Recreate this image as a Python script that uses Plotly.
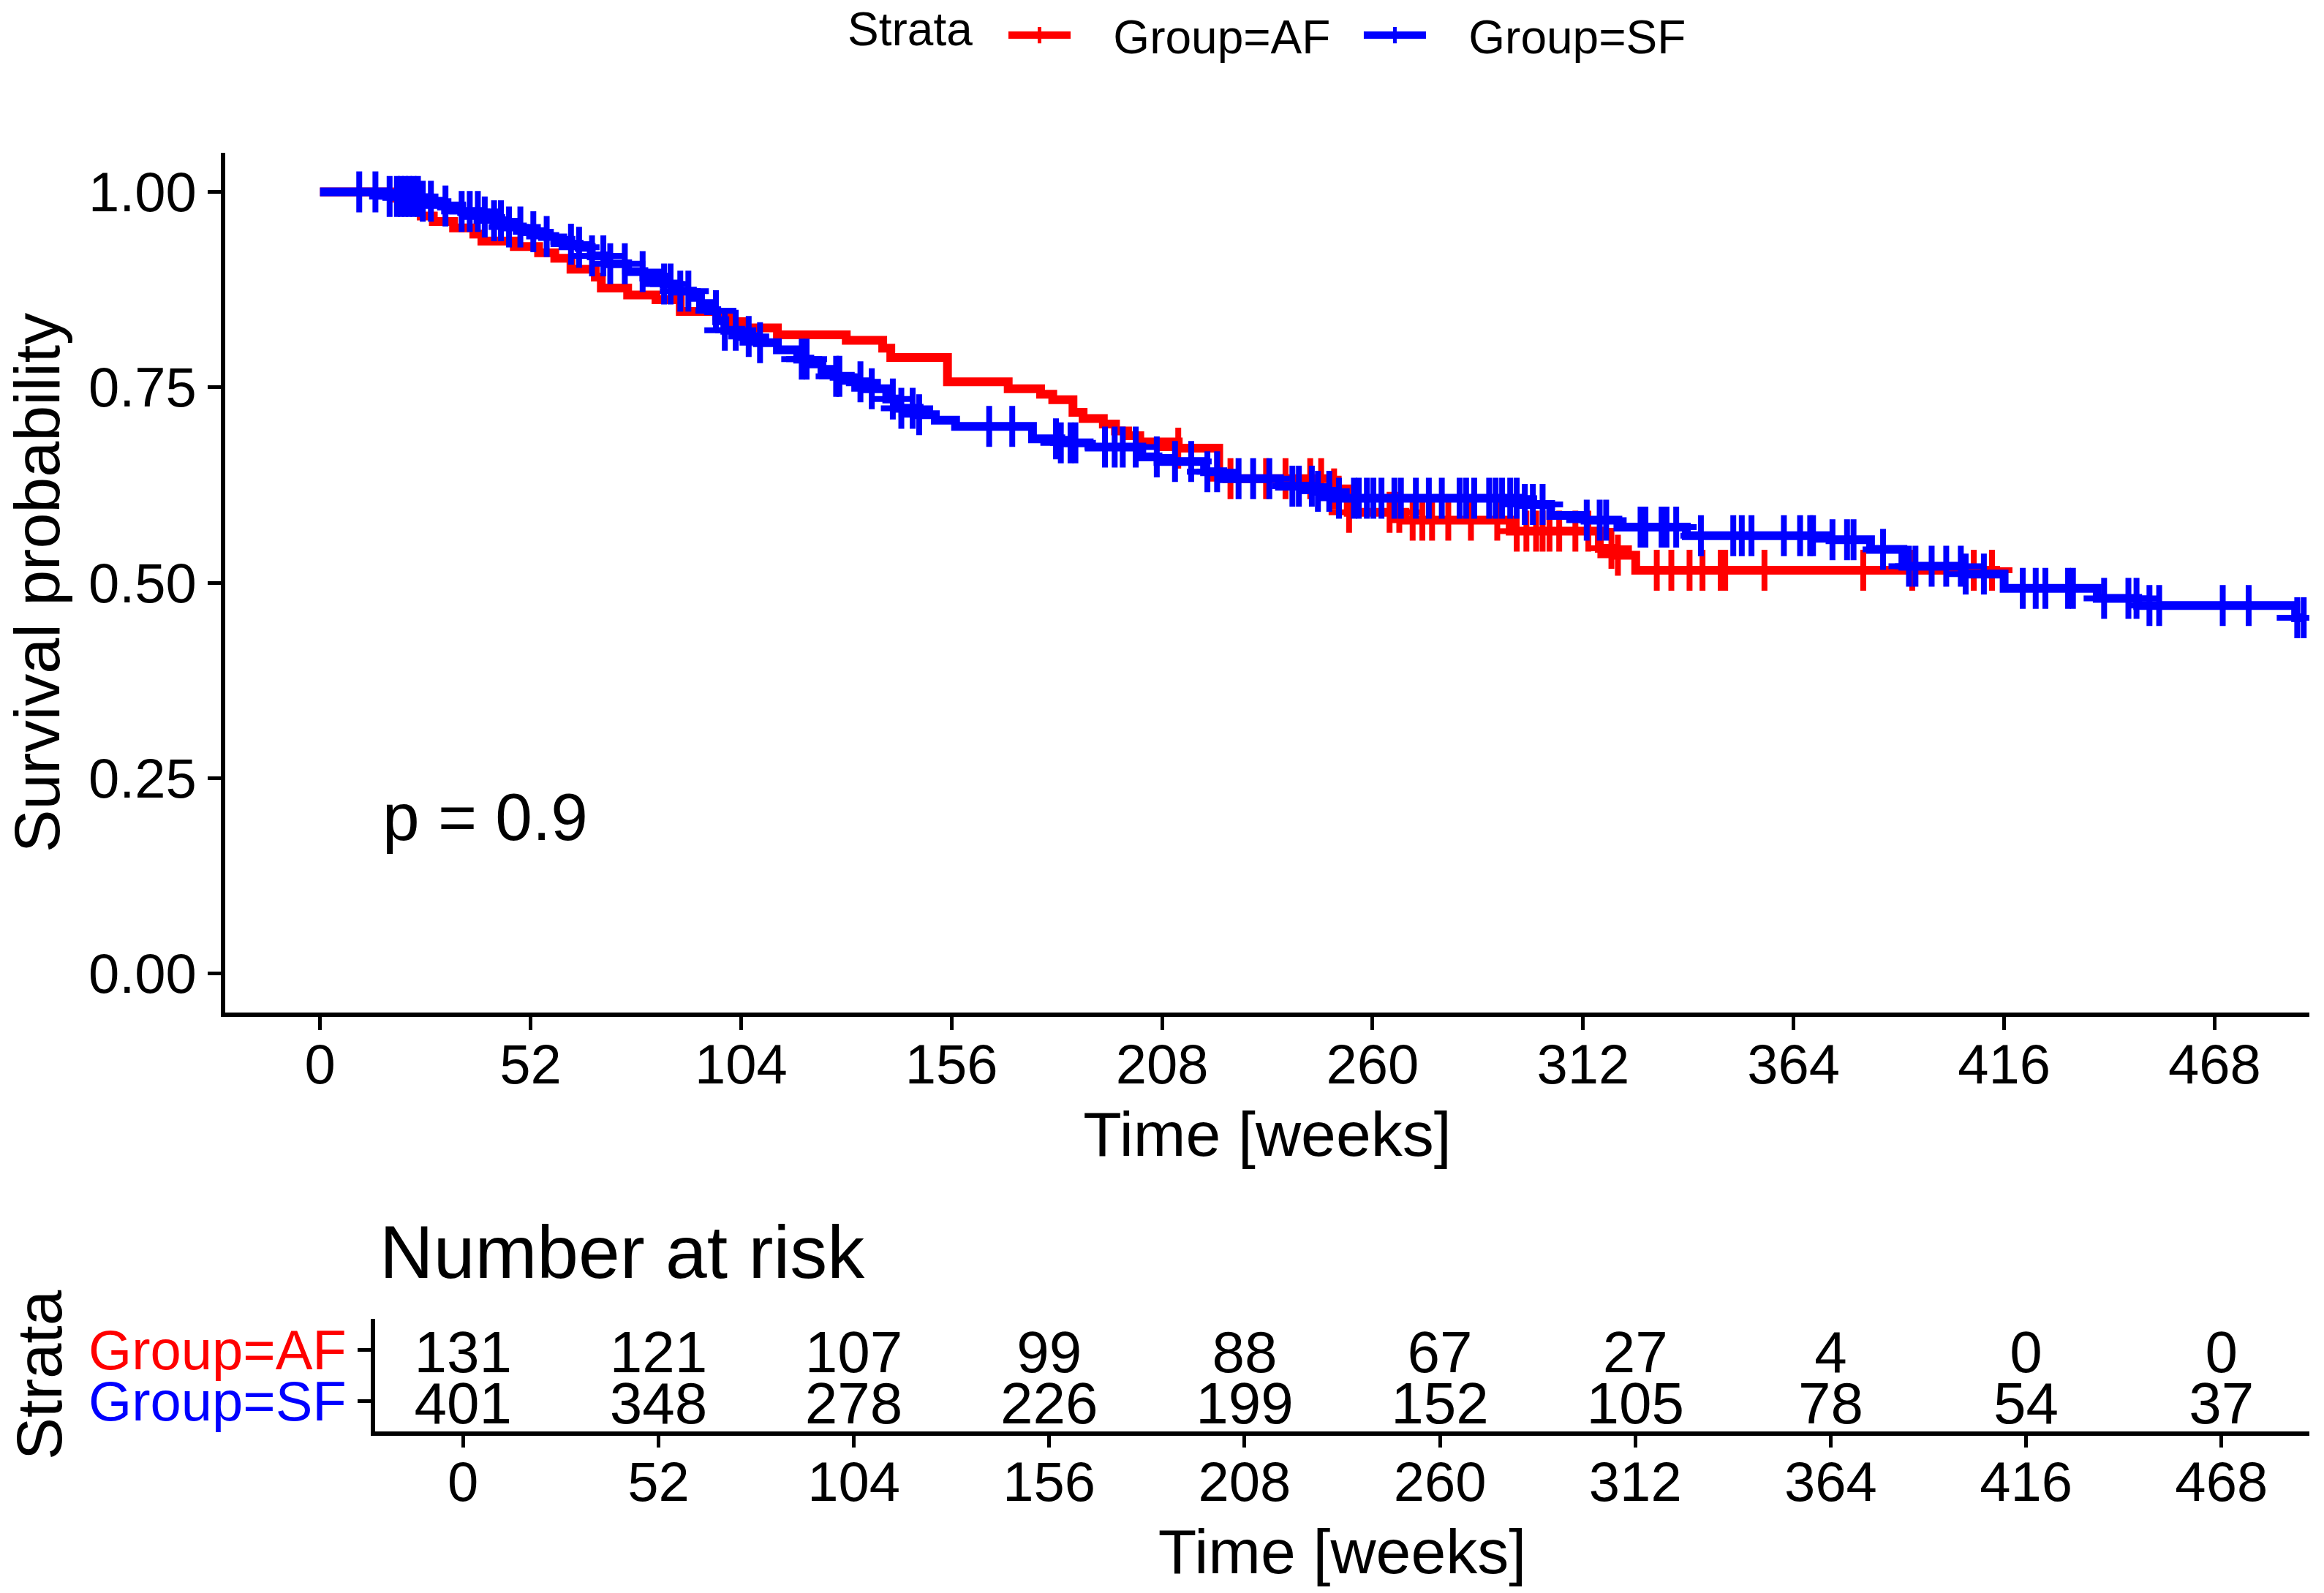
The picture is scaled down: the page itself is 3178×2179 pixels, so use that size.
import numpy as np
import plotly.graph_objects as go

# ---------------- data ----------------
af_time = [0, 18, 22, 25, 28, 33, 38, 40, 48, 54, 58, 62, 68, 69.5, 76, 83, 89, 98, 102, 105,
           113, 130, 139, 141, 155, 170, 178, 181, 186, 188.5, 193.5, 196.5, 199.5, 202.5, 212,
           222, 224, 250, 254, 268, 294, 316, 320, 325]
af_surv = [1.0, 0.992, 0.985, 0.969, 0.962, 0.954, 0.946, 0.937, 0.930, 0.922, 0.915, 0.901,
           0.891, 0.877, 0.868, 0.862, 0.847, 0.841, 0.834, 0.826, 0.817, 0.810, 0.800, 0.788,
           0.757, 0.748, 0.741, 0.734, 0.718, 0.710, 0.703, 0.694, 0.688, 0.680, 0.672, 0.636,
           0.633, 0.620, 0.590, 0.580, 0.566, 0.544, 0.535, 0.516]
af_end = 415
af_censor = [212, 224.9, 233.7, 238.5, 244.6, 247.3, 250.5, 254.2, 264.2, 266.6, 269.9, 272.3,
             274.7, 278.7, 284.3, 290.8, 295.6, 298, 300.4, 302, 303.7, 306.1, 310.1, 313.3, 319,
             320.6, 330.2, 333.8, 338.3, 341.5, 346, 347.1, 356.8, 381.2, 393.3, 408.5, 413]

sf_time = [0, 16.5, 25, 30, 35, 40, 43, 46, 50, 55, 58, 62, 64, 67, 71, 76, 80, 85, 88, 92,
           94, 96, 98, 100, 104, 108, 113, 118, 121, 124, 127, 131, 135, 140, 143, 148, 152, 157,
           176, 183, 190, 203, 207, 218.5, 223, 237, 246, 251, 297, 304, 312.5, 320.6, 337.5,
           373, 383, 391, 406, 416, 439, 449, 488]
sf_surv = [1.0, 0.994, 0.988, 0.982, 0.975, 0.968, 0.963, 0.955, 0.949, 0.943, 0.938, 0.933,
           0.929, 0.918, 0.908, 0.898, 0.891, 0.882, 0.873, 0.865, 0.857, 0.848, 0.835, 0.823,
           0.815, 0.807, 0.798, 0.786, 0.780, 0.773, 0.764, 0.757, 0.748, 0.735, 0.723, 0.715,
           0.708, 0.700, 0.684, 0.679, 0.6735, 0.661, 0.655, 0.642, 0.633, 0.6235, 0.617, 0.608,
           0.600, 0.586, 0.580, 0.571, 0.560, 0.555, 0.5425, 0.521, 0.511, 0.4927, 0.480, 0.4708,
           0.455]
sf_end = 490
sf_censor = [9.7, 13.7, 17.2, 19, 20, 21, 22, 23.1, 24.2, 25.4, 27.4, 31, 35, 37, 39, 40.7, 43,
             44.7, 46.7, 49.5, 52.7, 56, 62, 64, 67.2, 70, 71.7, 75.3, 79.7, 85, 86.6, 89, 91,
             97.8, 100, 102.7, 105.9, 108.7, 119, 120.2, 127.5, 128.3, 133.5, 136.3, 141.5,
             143.6, 146.4, 148, 165.3, 171, 181.8, 183, 185.4, 186.6, 193.9, 196.3, 198.3, 201.5,
             206.7, 211.2, 215.2, 219.2, 221.6, 226.9, 230.5, 234.5, 240.2, 241.8, 245, 246.5,
             249.3, 251.7, 255.4, 256.6, 258.6, 260.2, 262.2, 265.4, 267, 270.7, 273.9, 277.1,
             281.5, 283.1, 285.1, 288.8, 290.4, 292, 294, 295.6, 297.6, 299.6, 302, 312.9, 316.1,
             317.7, 326.2, 327.4, 331.4, 332.6, 335, 341.1, 349.1, 351.2, 353.6, 361.6, 365.6,
             368.1, 368.8, 373.6, 377.2, 378.8, 386.1, 392.5, 394.1, 398.1, 401.7, 405.3, 406.5,
             411, 420.6, 423.8, 426.2, 431.8, 433, 440.7, 446.7, 448.7, 451.9, 454.3, 470, 476.4,
             488.4, 490]

risk_times = [0, 52, 104, 156, 208, 260, 312, 364, 416, 468]
risk_af = [131, 121, 107, 99, 88, 67, 27, 4, 0, 0]
risk_sf = [401, 348, 278, 226, 199, 152, 105, 78, 54, 37]
y_ticks = [0.0, 0.25, 0.50, 0.75, 1.00]
groups = ["Group=AF", "Group=SF"]
row_index = {"Group=SF": 1, "Group=AF": 2}
colors = {"Group=AF": "#FF0000", "Group=SF": "#0000FF"}

# ---------------- geometry ----------------
W, H = 3178, 2179
FONT = "Liberation Sans, Arial, sans-serif"
NB = "\u00a0"
TEXT_NUDGE = 0.16  # vertical nudge of risk-table numbers (axis units)
px = lambda v: v / W
py = lambda v: 1 - v / H


def step_xy(t, s, end):
    return list(t) + [end], list(s) + [s[-1]]


def censor_y(t, s, c):
    t = np.asarray(t)
    s = np.asarray(s)
    idx = np.searchsorted(t, np.asarray(c), side="right") - 1
    return s[idx]


fig = go.Figure()
series = [("Group=AF", af_time, af_surv, af_end, af_censor),
          ("Group=SF", sf_time, sf_surv, sf_end, sf_censor)]
for name, t, s, e, c in series:
    xs, ys = step_xy(t, s, e)
    fig.add_trace(go.Scatter(x=xs, y=ys, mode="lines", line=dict(color=colors[name], width=12, shape="hv"),
                             showlegend=False, xaxis="x", yaxis="y", hoverinfo="skip"))
    fig.add_trace(go.Scatter(x=c, y=censor_y(t, s, c), mode="markers",
                             marker=dict(symbol="cross-thin", size=40, color=colors[name],
                                         line=dict(color=colors[name], width=8)),
                             showlegend=False, xaxis="x", yaxis="y", hoverinfo="skip"))
for name in groups:
    fig.add_trace(go.Scatter(x=[None], y=[None], mode="lines+markers", name=NB * 3 + name + NB * 2,
                             line=dict(color=colors[name], width=10),
                             marker=dict(symbol="cross-thin", size=16, color=colors[name],
                                         line=dict(color=colors[name], width=5)),
                             xaxis="x", yaxis="y"))

# risk table numbers
for name, vals in (("Group=AF", risk_af), ("Group=SF", risk_sf)):
    fig.add_trace(go.Scatter(x=risk_times, y=[row_index[name] - TEXT_NUDGE] * len(risk_times),
                             text=[str(v) for v in vals], mode="text",
                             textfont=dict(size=80, color="black", family=FONT),
                             showlegend=False, xaxis="x2", yaxis="y2", cliponaxis=False,
                             hoverinfo="skip"))

xrange_ = [-23.4, 491.4]
axis_common = dict(showgrid=False, zeroline=False, showline=True, linecolor="black", linewidth=6,
                   ticks="outside", tickcolor="black", tickwidth=5, ticklen=18, automargin=False,
                   tickfont=dict(size=76, color="black", family=FONT))

fig.update_layout(
    width=W, height=H, autosize=False,
    margin=dict(l=0, r=0, t=0, b=0, pad=0),
    paper_bgcolor="white", plot_bgcolor="white",
    font=dict(family=FONT, color="black"),
    xaxis=dict(domain=[px(308), px(3158)], range=xrange_, anchor="y", tickvals=risk_times,
               ticklabelstandoff=-18,
               title=dict(text="Time [weeks]", font=dict(size=86), standoff=26), **axis_common),
    yaxis=dict(domain=[py(1385), py(209)], range=[-0.05, 1.05], anchor="x", tickvals=y_ticks,
               tickformat=".2f", title=dict(text="Survival probability", font=dict(size=88), standoff=12),
               **axis_common),
    xaxis2=dict(domain=[px(513), px(3158)], range=xrange_, anchor="y2", tickvals=risk_times,
                ticklabelstandoff=-18,
                title=dict(text="Time [weeks]", font=dict(size=86), standoff=26),
                **{**axis_common, "ticklen": 16}),
    yaxis2=dict(domain=[py(1958), py(1804)], range=[0.4, 2.6], anchor="x2",
                tickvals=[row_index["Group=SF"], row_index["Group=AF"]],
                ticktext=["<span style='color:#0000FF'>Group=SF</span>",
                          "<span style='color:#FF0000'>Group=AF</span>"],
                title=dict(text="Strata", font=dict(size=87), standoff=10),
                **{**axis_common, "tickfont": dict(size=76, family=FONT)}),
    legend=dict(orientation="h", x=px(1374), xanchor="left", y=1, yanchor="top",
                font=dict(size=64, family=FONT), itemwidth=85, bgcolor="rgba(0,0,0,0)"),
    annotations=[
        dict(x=15, y=0.2, xref="x", yref="y", text="p = 0.9", showarrow=False, xanchor="left",
             yanchor="middle", font=dict(size=91, color="black", family=FONT)),
        dict(x=px(517), y=py(1713), xref="paper", yref="paper", text="Number at risk", showarrow=False,
             xanchor="left", yanchor="middle", font=dict(size=102, color="black", family=FONT)),
        dict(x=px(1157), y=py(40), xref="paper", yref="paper", text="Strata", showarrow=False,
             xanchor="left", yanchor="middle", font=dict(size=64, color="black", family=FONT)),
    ],
)

fig.write_html("out.html", config={"displayModeBar": False},
               post_script="document.body.style.margin='0px';")
